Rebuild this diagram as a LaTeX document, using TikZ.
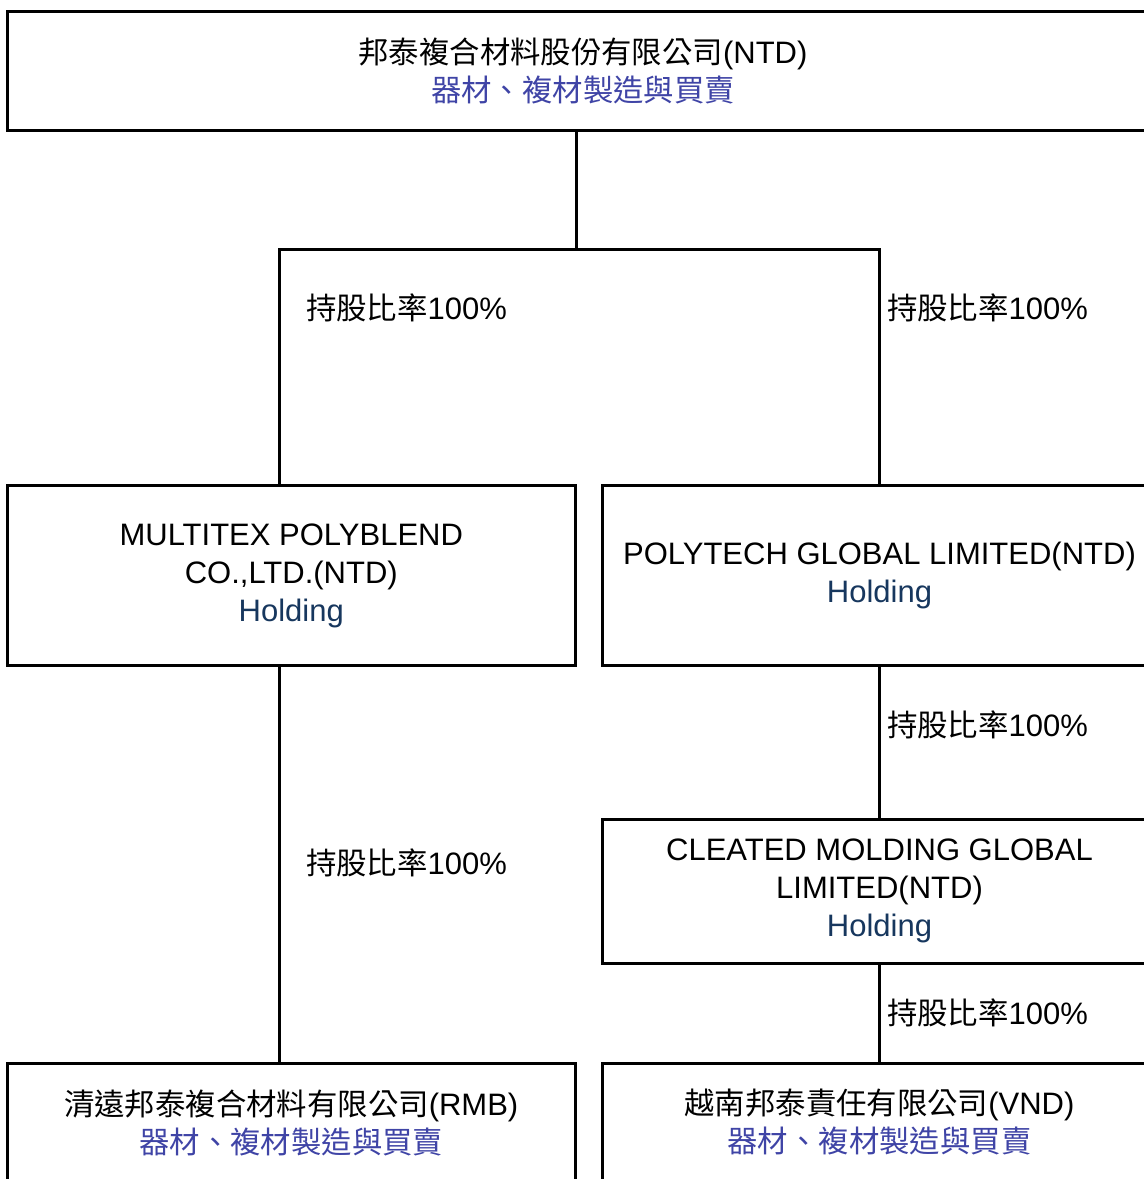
\documentclass[tikz,border=0pt]{standalone}
\usepackage{fontspec}
\setmainfont{Liberation Sans}
\newfontfamily\cjk[Scale=0.98]{Noto Sans CJK TC}
\definecolor{bizblue}{HTML}{3F44A6}
\definecolor{holdblue}{HTML}{17375E}
\begin{document}
\begin{tikzpicture}[x=1pt,y=-1pt,
  company/.style={draw, line width=3pt, inner sep=0pt, outer sep=0pt, align=center,
    font=\fontsize{31}{38}\selectfont, anchor=north west},
  ratio/.style={inner sep=0pt, anchor=west, font=\fontsize{31}{38}\selectfont},
  link/.style={line width=3pt}]
\clip (0,0) rectangle (1144,1179);
\fill[white] (0,0) rectangle (1144,1179);
% boxes
\node[company, minimum width=1151pt, minimum height=118.5pt] (top) at (7.5,11.5)
  {{\cjk 邦泰複合材料股份有限公司}(NTD)\\\textcolor{bizblue}{\cjk 器材、複材製造與買賣}};
\node[company, minimum width=567.5pt, minimum height=180pt] (ml) at (7.5,485.5)
  {MULTITEX POLYBLEND\\CO.,LTD.(NTD)\\\textcolor{holdblue}{Holding}};
\node[company, minimum width=554pt, minimum height=180pt] (pg) at (602.5,485.5)
  {POLYTECH GLOBAL LIMITED(NTD)\\\textcolor{holdblue}{Holding}};
\node[company, minimum width=554pt, minimum height=143.5pt] (cm) at (602.5,819.5)
  {CLEATED MOLDING GLOBAL\\LIMITED(NTD)\\\textcolor{holdblue}{Holding}};
\node[company, minimum width=567.5pt, minimum height=118pt] (qy) at (7.5,1063.5)
  {{\cjk 清遠邦泰複合材料有限公司}(RMB)\\\textcolor{bizblue}{\cjk 器材、複材製造與買賣}};
\node[company, minimum width=554pt, minimum height=118pt] (vn) at (602.5,1063.5)
  {{\cjk 越南邦泰責任有限公司}(VND)\\\textcolor{bizblue}{\cjk 器材、複材製造與買賣}};
% junctions
\coordinate (jt) at (576,249);
\coordinate (jl) at (279.5,249);
\coordinate (jr) at (879.5,249);
% connectors
\draw[link] (top.south -| jt) -- (jt);
\draw[link] (ml.north -| jl) -- (jl) -- (jr) -- (pg.north -| jr);
\draw[link] (pg.south -| jr) -- (cm.north -| jr);
\draw[link] (cm.south -| jr) -- (vn.north -| jr);
\draw[link] (ml.south -| jl) -- (qy.north -| jl);
% labels
\node[ratio] (r1) at (306,308) {{\cjk 持股比率}100\%};
\node[ratio] (r2) at (887,308) {{\cjk 持股比率}100\%};
\node[ratio] (r3) at (887,725) {{\cjk 持股比率}100\%};
\node[ratio] (r4) at (306,863) {{\cjk 持股比率}100\%};
\node[ratio] (r5) at (887,1013) {{\cjk 持股比率}100\%};
\end{tikzpicture}
\end{document}
